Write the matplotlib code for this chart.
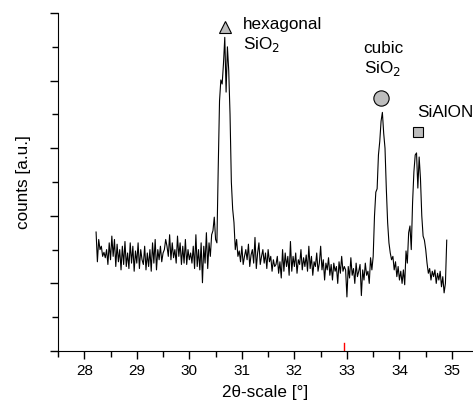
import numpy as np
import matplotlib
matplotlib.use("Agg")
import matplotlib.pyplot as plt
from matplotlib.ticker import MultipleLocator

plt.rcParams['font.family'] = ['Liberation Sans', 'DejaVu Sans']

# scan grid: start angle and step (deg 2-theta)
scan_start = 28.225
scan_step = 0.025

# measured counts [a.u.], one value per scan step
counts = [
    176, 132, 165, 150, 155, 140, 146, 138, 150, 128,
    160, 135, 170, 140, 165, 125, 158, 132, 150, 120,
    155, 128, 162, 125, 145, 122, 160, 130, 155, 118,
    148, 130, 160, 122, 150, 135, 128, 155, 120, 145,
    125, 150, 118, 160, 130, 165, 120, 150, 135, 155,
    132, 145, 150, 165, 155, 140, 172, 135, 160, 138,
    150, 130, 170, 140, 160, 128, 155, 130, 165, 128,
    150, 135, 145, 130, 155, 122, 172, 125, 150, 120,
    160, 101, 155, 130, 175, 122, 160, 140, 172, 178,
    198, 165, 160, 270, 370, 401, 395, 425, 464, 383,
    450, 415, 350, 250, 210, 190, 150, 165, 140, 148,
    132, 155, 128, 140, 150, 135, 158, 125, 142, 150,
    130, 168, 122, 145, 160, 128, 140, 150, 130, 145,
    122, 150, 132, 140, 118, 135, 125, 128, 140, 115,
    132, 108, 150, 118, 145, 125, 140, 112, 162, 118,
    140, 125, 145, 115, 135, 128, 150, 120, 138, 125,
    142, 118, 155, 122, 140, 112, 132, 125, 145, 118,
    130, 155, 120, 135, 105, 130, 120, 138, 112, 128,
    105, 130, 118, 125, 100, 132, 115, 140, 118, 125,
    120, 80, 125, 108, 138, 112, 122, 100, 130, 110,
    118, 128, 82, 120, 105, 130, 112, 118, 100, 138,
    120, 140, 200, 235, 240, 290, 310, 340, 353, 322,
    300, 240, 190, 160, 145, 135, 140, 120, 132, 110,
    125, 105, 118, 100, 120, 98, 148, 130, 175, 185,
    150, 220, 265, 290, 293, 241, 287, 255, 200, 170,
    164, 150, 130, 115, 122, 105, 118, 110, 120, 100,
    115, 105, 118, 95, 110, 86, 100, 164,
]

two_theta = scan_start + scan_step * np.arange(len(counts))

# phase labels: name, marker, marker position
phases = ["hexagonal\nSiO$_2$", "cubic\nSiO$_2$", "SiAlON"]
phase_marker = ["^", "o", "s"]
phase_mx = [30.68, 33.655, 34.35]
phase_my = [479, 374, 324]
phase_tx = [31.02, 33.32, 34.33]
phase_ty = [494, 459, 364]

fig = plt.figure(figsize=(4.73, 4.08), dpi=100)
ax = fig.add_axes([0.1226, 0.1397, 0.8774, 0.8284])

ax.plot(two_theta, counts, color="black", lw=0.8)

msize = [9, 11, 7.5]
for lab, m, mx, my, tx, ty, ms in zip(phases, phase_marker, phase_mx, phase_my,
                                      phase_tx, phase_ty, msize):
    ax.plot(mx, my, marker=m, ms=ms, mfc="#bdbdbd", mec="black", mew=0.8)
    ax.text(tx, ty, lab, fontsize=12.3, ha="left", va="top", linespacing=1.2)

# red reference tick on the axis
ax.axvline(32.95, ymin=0, ymax=0.025, color="red", lw=1)

ax.set_xlim(27.5, 35.4)
ax.set_ylim(0, 500)
ax.xaxis.set_major_locator(MultipleLocator(1))
ax.xaxis.set_minor_locator(MultipleLocator(0.5))
ax.yaxis.set_major_locator(MultipleLocator(100))
ax.yaxis.set_minor_locator(MultipleLocator(50))
ax.set_yticklabels([])
ax.tick_params(axis="both", which="major", direction="out", length=6, width=1,
               labelsize=11)
ax.tick_params(axis="both", which="minor", direction="out", length=4, width=1)
for s in ["top", "right"]:
    ax.spines[s].set_visible(False)

ax.set_xlabel("2θ-scale [°]", fontsize=12.3, labelpad=5)
ax.set_ylabel("counts [a.u.]", fontsize=12.3, labelpad=10)

fig.savefig("out.png", dpi=100)
